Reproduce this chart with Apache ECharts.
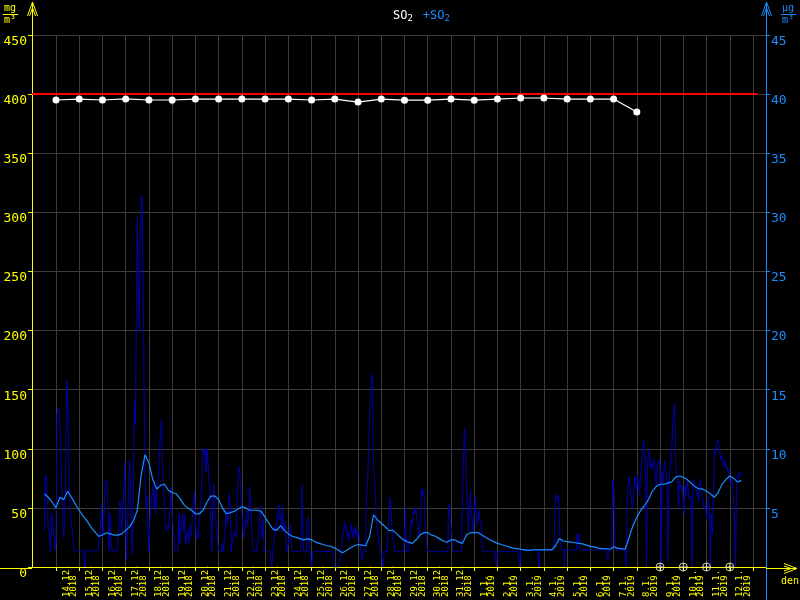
<!DOCTYPE html>
<html><head><meta charset="utf-8">
<script src="https://cdn.jsdelivr.net/npm/echarts@6/dist/echarts.min.js"></script>
<style>html,body{margin:0;padding:0;background:#000}#c{width:800px;height:600px}</style>
</head><body><div id="c"></div><script>
// ---- data ----
const dayLabels = ['14.12.','15.12.','16.12.','17.12.','18.12.','19.12.','20.12.','21.12.','22.12.','23.12.','24.12.','25.12.','26.12.','27.12.','28.12.','29.12.','30.12.','31.12.','1.1.','2.1.','3.1.','4.1.','5.1.','6.1.','7.1.','8.1.','9.1.','10.1.','11.1.','12.1.'];
const yearLabels = ['2018','2018','2018','2018','2018','2018','2018','2018','2018','2018','2018','2018','2018','2018','2018','2018','2018','2018','2019','2019','2019','2019','2019','2019','2019','2019','2019','2019','2019','2019'];
const leftTicks = [0,50,100,150,200,250,300,350,400,450];
const rightTicks = [0,5,10,15,20,25,30,35,40,45];
// hourly SO2 (µg/m3), 24 values per day
const hourly = [
 3.1,7.5,7.8,6.5,3.3,3.0,1.3,1.4,4.5,3.5,2.5,1.4,2.0,12.9,13.2,13.5,12.0,10.0,6.5,4.0,2.5,4.0,8.0,15.8,
 14.5,10.0,6.0,4.5,3.5,3.0,2.0,1.4,1.37,1.37,1.37,1.37,1.37,1.37,1.37,1.37,1.37,1.37,0,1.37,1.37,1.37,1.37,1.37,
 1.37,1.37,1.37,1.37,1.37,1.37,1.37,1.37,1.37,2.5,3.5,5.3,2.5,3.0,5.5,7.0,7.4,7.2,4.0,1.3,4.5,2.0,1.37,1.37,
 1.37,1.37,1.37,1.37,2.5,4.0,5.6,4.5,3.0,5.0,6.0,9.0,4.0,0.6,4.0,6.0,9.0,7.0,3.0,1.0,8.0,14.0,12.0,21.5,
 29.6,23.9,20.0,27.5,31.5,31.3,25.0,15.0,8.0,5.0,6.0,3.0,1.2,4.0,5.0,6.0,7.0,5.0,6.5,4.5,5.5,7.0,8.0,10.0,
 11.5,12.5,9.0,7.0,5.0,3.5,3.0,3.5,3.2,4.0,5.5,6.8,4.5,3.5,2.5,1.4,1.3,1.4,1.4,4.5,2.0,3.0,4.0,4.5,
 3.0,4.4,1.9,2.5,3.0,2.0,3.5,2.5,3.0,4.7,4.7,6.4,4.0,2.3,3.0,2.5,4.1,4.5,6.0,8.5,10.1,9.5,10.0,8.0,
 10.0,8.9,7.0,6.6,3.0,1.3,5.0,7.0,5.0,4.1,3.0,2.0,1.4,1.3,1.3,1.3,2.0,1.3,2.5,3.5,4.8,3.5,5.0,6.2,
 5.5,1.3,2.0,2.5,3.0,3.0,2.5,5.5,7.5,8.5,8.0,6.0,4.5,3.5,2.5,3.0,4.0,4.8,3.5,5.0,6.8,5.5,3.5,2.0,
 1.3,1.3,1.3,1.3,1.3,2.5,4.0,5.2,3.5,2.5,4.0,1.3,1.3,1.3,1.3,1.3,1.3,1.3,1.3,0,1.3,2.0,3.4,3.0,
 3.0,4.5,5.4,4.0,4.5,3.0,5.2,3.0,3.5,3.8,1.3,1.3,2.0,3.0,3.6,2.0,1.3,1.3,1.3,1.3,1.3,1.3,1.3,1.3,
 1.3,3.0,6.9,2.5,1.3,1.3,1.3,3.5,4.2,4.0,1.3,1.3,0,1.3,1.3,1.3,1.3,1.3,1.3,1.3,1.3,1.3,1.3,1.3,
 1.3,1.3,1.3,1.3,1.3,1.3,1.3,1.3,1.3,1.3,0,0,0,0,0,0,0,0,1.3,1.3,2.5,3.0,3.8,3.2,
 3.5,2.5,3.0,2.2,3.0,3.6,3.0,2.5,3.2,2.8,3.5,2.5,3.0,2.8,2.0,1.3,0.6,1.3,1.3,1.3,4.0,6.0,7.5,10.2,
 12.9,14.5,16.3,15.5,8.7,7.5,6.1,3.5,3.0,2.5,2.0,2.0,1.0,0.6,0,1.3,1.3,1.3,1.3,3.0,4.8,5.9,5.0,3.6,
 2.5,2.0,1.3,1.3,1.3,1.3,1.3,1.3,1.3,1.3,1.3,1.3,2.5,5.1,1.3,1.3,1.3,2.0,3.0,4.0,3.5,4.5,5.0,4.5,
 5.0,4.0,3.5,2.5,3.3,5.0,6.7,6.0,6.5,4.0,2.5,1.9,1.3,1.3,1.3,1.3,1.3,1.3,1.3,1.3,1.3,1.3,1.3,1.3,
 1.3,1.3,1.3,1.3,1.3,1.3,1.3,1.3,1.3,4.0,5.3,4.2,3.5,2.8,1.3,1.3,1.3,1.3,1.3,1.3,1.3,1.3,1.3,3.0,
 6.0,9.0,11.8,10.0,7.4,5.0,3.0,5.0,6.4,5.0,3.8,3.0,4.5,5.9,4.5,3.5,4.0,4.8,4.0,3.8,2.0,1.3,1.3,1.3,
 1.3,1.3,1.3,1.3,1.3,1.3,1.3,1.3,1.3,1.3,1.3,0,1.3,1.3,1.3,1.3,1.3,1.3,1.3,1.3,1.3,1.3,1.3,1.3,
 1.3,1.3,1.3,1.3,1.3,1.3,1.3,1.3,1.3,1.3,0.6,0,1.45,1.45,1.45,1.45,1.45,1.45,1.45,1.45,1.45,1.45,1.45,1.45,
 1.45,1.45,1.45,1.45,1.45,1.45,0.6,0,1.45,1.45,1.45,1.45,1.45,1.45,1.45,1.45,1.45,1.45,1.45,1.45,1.45,1.45,1.45,4.5,
 6.0,6.2,5.5,6.0,3.8,2.0,1.45,1.3,1.45,0,1.45,1.45,1.45,1.45,1.45,1.45,1.45,1.45,1.45,1.45,1.45,1.45,2.8,2.0,
 2.8,1.45,1.45,1.45,1.45,1.45,1.45,1.45,1.45,1.45,1.45,1.45,1.45,1.45,1.45,1.45,1.45,1.45,1.45,1.45,1.45,1.45,1.45,1.45,
 1.45,1.45,1.45,1.45,1.45,1.45,0.6,1.45,1.45,1.45,1.45,7.4,7.0,3.5,1.45,1.45,1.45,1.45,1.45,1.45,1.45,1.45,1.45,1.45,
 1.45,0,5.1,7.1,7.6,7.0,6.0,5.0,5.3,6.5,7.6,7.1,6.5,7.8,7.1,6.0,8.0,8.5,10.0,10.7,9.5,8.8,0,8.3,
 10.0,9.4,8.3,8.9,8.3,8.6,9.1,7.7,6.9,8.3,8.9,9.1,8.6,0,8.0,7.0,8.5,9.0,8.0,7.5,0.5,6.5,8.0,8.8,
 10.0,11.9,13.0,13.9,9.1,7.7,7.4,5.0,7.3,7.2,6.5,6.9,5.5,4.5,6.9,6.0,7.4,6.6,5.8,6.0,5.5,0,6.5,7.4,
 7.2,6.6,6.0,6.3,5.5,7.4,6.9,6.5,5.8,5.0,4.9,5.2,4.1,4.8,6.0,5.0,0,4.5,2.8,5.0,10.1,9.5,9.9,10.8,
 10.8,10.4,9.5,9.1,9.4,8.6,8.9,9.1,8.3,8.6,8.0,8.3,7.4,6.9,7.4,6.9,7.0,3.8,0,6.9,7.7,8.0,7.5,8.0
];
// running average (µg/m3), one value every 4 hours
const runningAvg = [6.2,5.9,5.5,5.0,5.9,5.7,6.4,5.9,5.3,4.8,4.3,3.9,3.4,3.0,2.6,2.7,2.9,2.8,2.7,2.7,2.8,3.1,3.4,3.9,4.8,7.8,9.5,8.8,7.4,6.6,6.9,7.0,6.5,6.3,6.2,5.8,5.3,5.0,4.8,4.5,4.5,4.8,5.5,6.0,6.0,5.7,5.0,4.5,4.6,4.7,4.9,5.1,5.0,4.8,4.8,4.8,4.7,4.2,3.7,3.2,3.1,3.5,3.1,2.8,2.6,2.5,2.4,2.3,2.4,2.3,2.1,2.0,1.9,1.8,1.75,1.6,1.4,1.2,1.4,1.6,1.8,1.9,1.85,1.8,2.6,4.4,4.0,3.7,3.4,3.1,3.1,2.8,2.5,2.25,2.1,2.0,2.3,2.7,2.9,2.9,2.7,2.6,2.4,2.2,2.1,2.3,2.3,2.1,2.0,2.7,2.9,2.9,2.9,2.7,2.5,2.3,2.15,2.0,1.9,1.8,1.7,1.6,1.55,1.5,1.45,1.4,1.45,1.45,1.45,1.45,1.45,1.45,1.8,2.4,2.2,2.15,2.1,2.05,2.0,1.95,1.85,1.75,1.7,1.6,1.55,1.55,1.5,1.7,1.6,1.55,1.5,2.5,3.5,4.2,4.8,5.2,5.7,6.4,6.8,7.0,7.0,7.1,7.2,7.6,7.7,7.6,7.4,7.1,6.8,6.6,6.6,6.4,6.2,5.9,6.3,7.0,7.4,7.7,7.5,7.2,7.3];
// daily values (left axis)
const dailyVals = [395.0,395.8,395.0,395.9,395.0,395.0,395.8,395.8,395.8,395.8,395.8,395.0,395.8,393.3,395.8,394.9,394.9,395.8,394.9,395.8,396.7,396.7,395.8,395.8,395.8,384.9];
const extraMarks = [[5,393.2],[6,397.6],[7,396.8],[8,398.3]];
const missingDays = [26,27,28,29];
const limitValue = 400;

// ---- chart ----
const YEL = '#ffff00', BLUE = '#1a8cff', GRID = '#3c3c3c', FONT = 'DejaVu Sans Mono';
const X_MIN = -1.033, X_MAX = 30.56;
const hourlyData = hourly.map((v,k)=>[k/24-0.5, v]);
hourlyData.push([hourly.length/24-0.5, hourly[hourly.length-1]]);
const avgData = runningAvg.map((v,j)=>[j*4/24-0.5, v]);
const dailyData = dailyVals.map((v,d)=>[d, v]);
const tickVals = []; for (let i=0;i<=dayLabels.length;i++) tickVals.push(i);
const labelVals = dayLabels.map((_,i)=>i+0.6);

const chart = echarts.init(document.getElementById('c'), null, {renderer:'canvas'});
const chevUp = (x, c) => ({type:'polyline', z:100, shape:{points:[[x-5,16],[x,2],[x+5,16]]}, style:{stroke:c, fill:null, lineWidth:1}});
const chevUp2 = (x, c) => ({type:'polyline', z:100, shape:{points:[[x-3,16],[x,8],[x+3,16]]}, style:{stroke:c, fill:null, lineWidth:1}});
chart.setOption({
  backgroundColor:'#000',
  animation:false,
  title:{
    text:'{w|SO}{ws|2}  {b|+SO}{bs|2}',
    left:388, top:2,
    textStyle:{rich:{
      w:{color:'#fff', fontFamily:FONT, fontSize:12, fontWeight:'normal'},
      ws:{color:'#fff', fontFamily:FONT, fontSize:9, fontWeight:'normal', padding:[6,0,0,0]},
      b:{color:BLUE, fontFamily:FONT, fontSize:12, fontWeight:'normal'},
      bs:{color:BLUE, fontFamily:FONT, fontSize:9, fontWeight:'normal', padding:[6,0,0,0]}
    }}
  },
  grid:{left:32, right:34, top:35, bottom:32, containLabel:false},
  xAxis:{
    type:'value', min:X_MIN, max:X_MAX,
    axisLine:{show:true, onZero:false, lineStyle:{color:YEL, width:1}},
    axisTick:{show:true, customValues:tickVals, length:4, lineStyle:{color:YEL}},
    splitLine:{show:true, lineStyle:{color:GRID, width:1}},
    axisLabel:{
      customValues:labelVals, rotate:90, align:'left', verticalAlign:'middle', margin:30,
      color:YEL, fontFamily:FONT, fontSize:9, lineHeight:7.5,
      formatter:(v)=>{const i=Math.round(v-0.6); return dayLabels[i]+'\n'+yearLabels[i];}
    }
  },
  yAxis:[{
    type:'value', min:0, max:450, interval:50, position:'left',
    axisLine:{show:true, onZero:false, lineStyle:{color:YEL, width:1}},
    axisTick:{show:true, length:4, lineStyle:{color:YEL}},
    splitLine:{show:true, lineStyle:{color:GRID, width:1}},
    axisLabel:{color:YEL, fontFamily:FONT, fontSize:13, margin:5, verticalAlign:'top',
      formatter:(v)=>leftTicks.indexOf(v)>=0?String(v):''}
  },{
    type:'value', min:0, max:45, interval:5, position:'right',
    axisLine:{show:true, onZero:false, lineStyle:{color:BLUE, width:1}},
    axisTick:{show:true, length:4, lineStyle:{color:BLUE}},
    splitLine:{show:false},
    axisLabel:{color:BLUE, fontFamily:FONT, fontSize:13, margin:5, verticalAlign:'top', showMinLabel:false,
      formatter:(v)=>rightTicks.indexOf(v)>=0?String(v):''}
  }],
  series:[
    {type:'line', yAxisIndex:1, data:hourlyData, step:'end', symbol:'none', z:2,
      lineStyle:{color:'#0000a8', width:1}},
    {type:'line', yAxisIndex:1, data:avgData, symbol:'none', z:3,
      lineStyle:{color:BLUE, width:1.2}},
    {type:'line', yAxisIndex:0, data:[], symbol:'none', z:4,
      markLine:{silent:true, symbol:'none', label:{show:false},
        lineStyle:{color:'#ff0000', width:2, type:'solid'},
        data:[[{coord:[X_MIN, limitValue]},{coord:[30.2, limitValue]}]]}},
    {type:'scatter', yAxisIndex:0, data:extraMarks, symbol:'triangle', symbolSize:4, z:5,
      itemStyle:{color:'#888'}},
    {type:'line', yAxisIndex:0, data:dailyData, symbol:'circle', symbolSize:7, z:6,
      lineStyle:{color:'#fff', width:1.2}, itemStyle:{color:'#fff'}},
    {type:'scatter', yAxisIndex:0, data:missingDays.map(d=>[d,0]), z:7,
      symbol:'path://M0,5A5,5 0 1,1 10,5A5,5 0 1,1 0,5Z M5,0L5,10 M0,5L10,5', symbolSize:8,
      itemStyle:{color:'none', borderColor:'#fff8d0', borderWidth:1}}
  ],
  graphic:[
    {type:'line', z:100, shape:{x1:32.5,y1:2,x2:32.5,y2:35}, style:{stroke:YEL, lineWidth:1}},
    chevUp(32.5, YEL), chevUp2(32.5, YEL),
    {type:'line', z:100, shape:{x1:766.5,y1:2,x2:766.5,y2:35}, style:{stroke:BLUE, lineWidth:1}},
    {type:'line', z:100, shape:{x1:766.5,y1:568,x2:766.5,y2:600}, style:{stroke:BLUE, lineWidth:1}},
    chevUp(766.5, BLUE), chevUp2(766.5, BLUE),
    {type:'line', z:100, shape:{x1:0,y1:568.5,x2:32,y2:568.5}, style:{stroke:YEL, lineWidth:1}},
    {type:'line', z:100, shape:{x1:766,y1:568.5,x2:796,y2:568.5}, style:{stroke:YEL, lineWidth:1}},
    {type:'polyline', z:100, shape:{points:[[784,563.5],[797,568.5],[784,573.5]]}, style:{stroke:YEL, fill:null, lineWidth:1}},
    {type:'polyline', z:100, shape:{points:[[784,566],[791,568.5],[784,571]]}, style:{stroke:YEL, fill:null, lineWidth:1}},
    {type:'text', z:100, x:790, y:576, style:{text:'den', fill:YEL, font:'10px '+FONT, align:'center'}},
    {type:'text', z:100, x:10, y:3, style:{text:'mg', fill:YEL, font:'10px '+FONT, align:'center'}},
    {type:'line', z:100, shape:{x1:3,y1:14.5,x2:18,y2:14.5}, style:{stroke:YEL, lineWidth:1}},
    {type:'text', z:100, x:10, y:15, style:{text:'m³', fill:YEL, font:'10px '+FONT, align:'center'}},
    {type:'text', z:100, x:788, y:3, style:{text:'µg', fill:BLUE, font:'10px '+FONT, align:'center'}},
    {type:'line', z:100, shape:{x1:781,y1:14.5,x2:796,y2:14.5}, style:{stroke:BLUE, lineWidth:1}},
    {type:'text', z:100, x:788, y:15, style:{text:'m³', fill:BLUE, font:'10px '+FONT, align:'center'}}
  ]
});
</script></body></html>
